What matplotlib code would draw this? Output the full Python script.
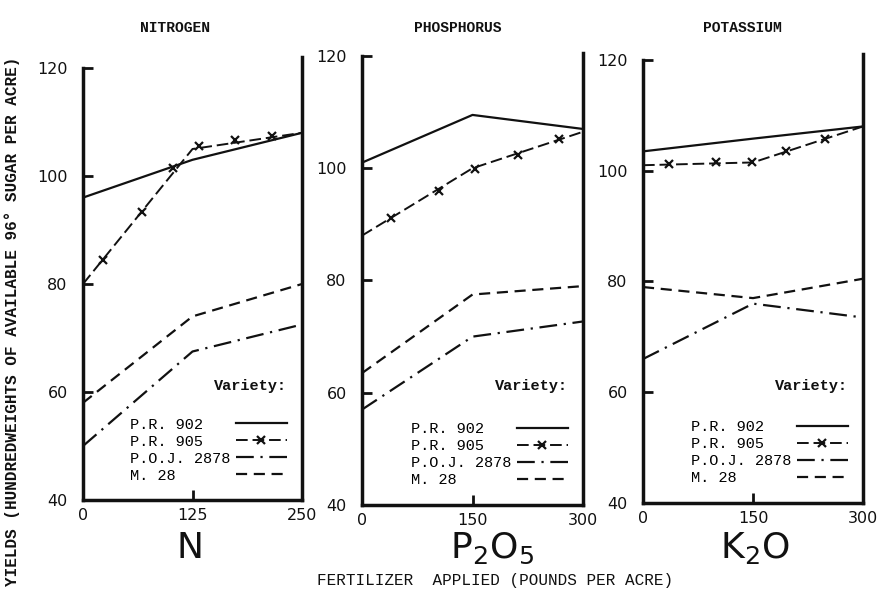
import numpy as np
import matplotlib.pyplot as plt
from matplotlib.lines import Line2D

# values (yield, cwt of 96 deg sugar per acre)

# nitrogen
n_rates = [0, 125, 250]
n_pr902 = [96, 103, 108]
n_pr905 = [80, 105, 108]
n_poj2878 = [50, 67.5, 72.5]
n_m28 = [58, 74, 80]
n_x_rate = [23, 67, 103, 132, 174, 216]
n_x_yield = [84.5, 93.4, 101.5, 105.6, 106.7, 107.5]

# phosphorus
p_rates = [0, 150, 300]
p_pr902 = [101, 109.5, 107]
p_pr905 = [88, 100, 106.5]
p_poj2878 = [57, 70, 72.7]
p_m28 = [63.5, 77.5, 79]
p_x_rate = [40, 104, 154, 212, 268]
p_x_yield = [91.1, 96, 99.8, 102.4, 105.2]

# potassium
k_rates = [0, 150, 300]
k_pr902 = [103.5, 105.8, 108]
k_pr905 = [101, 101.5, 108]
k_poj2878 = [66, 76, 73.5]
k_m28 = [79, 77, 80.5]
k_x_rate = [36, 99, 148, 195, 248]
k_x_yield = [101.3, 101.5, 101.5, 103.5, 105.7]

titles = ["NITROGEN", "PHOSPHORUS", "POTASSIUM"]
elements = ["N", r"P$_2$O$_5$", r"K$_2$O"]
y_ticks = [40, 60, 80, 100, 120]
varieties = ["P.R. 902", "P.R. 905", "P.O.J. 2878", "M. 28"]

panels = [
    (n_rates, n_pr902, n_pr905, n_poj2878, n_m28, n_x_rate, n_x_yield),
    (p_rates, p_pr902, p_pr905, p_poj2878, p_m28, p_x_rate, p_x_yield),
    (k_rates, k_pr902, k_pr905, k_poj2878, k_m28, k_x_rate, k_x_yield),
]

ink = "#111111"
mono = "Liberation Mono"
W, H = 884, 590

fig = plt.figure(figsize=(8.84, 5.9), dpi=100)

# pixel boxes from the scan: left, right, y of 120, y of 40
boxes = [(83, 302, 68, 500), (362, 583, 56, 505), (643, 863, 60, 503)]
right_top = [122, 120.5, 121]
title_x = [175, 458, 742]
elem_x = [190, 492, 755]

dash = (5, 3)
dashdot = (8, 3, 1, 3)
xdash = (6, 2.5)

for i, (rates, pr902, pr905, poj, m28, xr, xy) in enumerate(panels):
    l, r, t, b = boxes[i]
    ax = fig.add_axes([l / W, 1 - b / H, (r - l) / W, (b - t) / H])

    ax.plot(rates, pr902, color=ink, lw=1.6)
    ax.plot(rates, pr905, color=ink, lw=1.4, dashes=xdash)
    ax.plot(xr, xy, "x", color=ink, ms=6, mew=1.6)
    ax.plot(rates, poj, color=ink, lw=1.6, dashes=dashdot)
    ax.plot(rates, m28, color=ink, lw=1.6, dashes=dash)

    ax.set_xlim(rates[0], rates[-1])
    ax.set_ylim(40, 120)
    ax.set_xticks(rates)
    ax.set_yticks(y_ticks)
    ax.tick_params(axis="both", direction="in", length=7, width=2,
                   labelsize=11.5, colors=ink)
    ax.tick_params(axis="y", pad=11)
    ax.tick_params(axis="x", pad=6)
    ax.spines["top"].set_visible(False)
    ax.spines["right"].set_bounds(40, right_top[i])
    for s in ax.spines.values():
        s.set_linewidth(2.5)
        s.set_color(ink)

    # legend: labels on the left, line samples on the right
    handles = [
        Line2D([], [], color=ink, lw=1.6),
        Line2D([], [], color=ink, lw=1.4, dashes=xdash, marker="x", ms=6, mew=1.6),
        Line2D([], [], color=ink, lw=1.6, dashes=dashdot),
        Line2D([], [], color=ink, lw=1.6, dashes=dash),
    ]
    width = max(len(v) for v in varieties)
    labels = [v.ljust(width) for v in varieties]
    ax.legend(handles, labels, loc="lower right", bbox_to_anchor=(0.93, 0.04),
              frameon=False, markerfirst=False, numpoints=1, handlelength=3.3,
              handletextpad=0.4, labelspacing=0.2, borderpad=0, borderaxespad=0,
              prop={"family": mono, "size": 11})
    ax.text(0.93, 0.265, "Variety:", transform=ax.transAxes, ha="right",
            va="center", family=mono, fontweight="bold", fontsize=11, color=ink)

    fig.text(title_x[i] / W, 1 - 28 / H, titles[i], ha="center", va="center",
             family=mono, fontweight="bold", fontsize=10.5, color=ink)
    fig.text(elem_x[i] / W, 1 - 548 / H, elements[i], ha="center", va="center",
             fontsize=26, color=ink)

fig.text(12 / W, 1 - 321 / H,
         "YIELDS (HUNDREDWEIGHTS OF AVAILABLE 96\u00b0 SUGAR PER ACRE)",
         rotation=90, ha="center", va="center", family=mono,
         fontweight="bold", fontsize=11.5, color=ink)
fig.text(495 / W, 1 - 580 / H, "FERTILIZER  APPLIED (POUNDS PER ACRE)",
         ha="center", va="center", family=mono, fontsize=11.5, color=ink)

fig.savefig("out.png", dpi=100, facecolor="white")
